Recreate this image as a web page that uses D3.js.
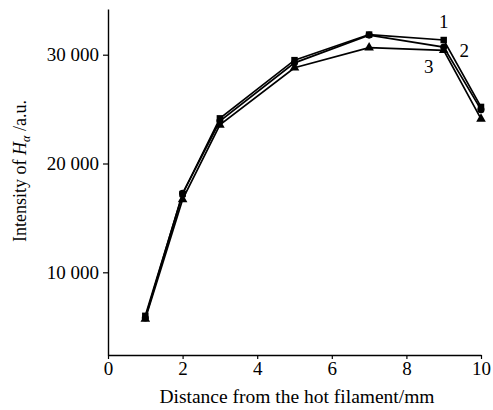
<!DOCTYPE html>
<html>
<head>
<meta charset="utf-8">
<script src="https://cdn.jsdelivr.net/npm/d3@7"></script>
<style>
  body { margin: 0; background: #fff; }
  text { font-family: "Liberation Serif", "DejaVu Serif", serif; fill: #000; }
</style>
</head>
<body>
<div id="graph"></div>
<script>
// values
const distance = [1, 2, 3, 5, 7, 9, 10]
const series1 = [6000, 17200, 24150, 29500, 31850, 31350, 25200]   // squares
const series2 = [5800, 17250, 23900, 29250, 31800, 30700, 24950]   // circles
const series3 = [5700, 16700, 23550, 28800, 30650, 30400, 24100]   // triangles
const xTicks = [0, 2, 4, 6, 8, 10]
const yTicks = [10000, 20000, 30000]

const total_width = 493
const total_height = 410
const margins = { top: 9, left: 108, right: 12, bottom: 55 }
const width = total_width - margins.left - margins.right
const height = total_height - margins.top - margins.bottom
const serif = '"Liberation Serif", "DejaVu Serif", serif'

const svg = d3.select('#graph').append('svg')
  .attr('width', total_width)
  .attr('height', total_height)

const g = svg.append('g')
  .attr('transform', `translate(${margins.left}, ${margins.top})`)

const x = d3.scaleLinear().domain([0, 10]).range([0, width])
const y = d3.scaleLinear().domain([2400, 34200]).range([height, 0])

// "30 000" style thousands
const fmt = d => d3.format(',')(d).replace(/,/g, ' ')

// axes
const xAxis = g.append('g')
  .attr('transform', `translate(0, ${height})`)
  .call(d3.axisBottom(x).tickValues(xTicks).tickSize(4).tickSizeOuter(0).tickPadding(3))
const yAxis = g.append('g')
  .call(d3.axisLeft(y).tickValues(yTicks).tickSize(5).tickSizeOuter(0).tickFormat(fmt).tickPadding(4))

xAxis.attr('font-family', serif).attr('font-size', 19)
yAxis.attr('font-family', serif).attr('font-size', 19)
svg.selectAll('.domain').attr('stroke', '#000').attr('stroke-width', 1.4)
svg.selectAll('.tick line').attr('stroke', '#000').attr('stroke-width', 1.2)
svg.selectAll('.tick text').attr('fill', '#000')

// lines
const line = d3.line()
  .x((d, i) => x(distance[i]))
  .y(d => y(d))

const allSeries = [
  { values: series1, symbol: d3.symbolSquare, size: 42 },
  { values: series2, symbol: d3.symbolCircle, size: 40 },
  { values: series3, symbol: d3.symbolTriangle, size: 40 }
]

allSeries.forEach(s => {
  g.append('path')
    .datum(s.values)
    .attr('fill', 'none')
    .attr('stroke', '#000')
    .attr('stroke-width', 1.7)
    .attr('d', line)
})

allSeries.forEach(s => {
  g.append('g')
    .selectAll('path')
    .data(s.values)
    .enter()
    .append('path')
    .attr('transform', (d, i) => `translate(${x(distance[i])}, ${y(d)})`)
    .attr('d', d3.symbol().type(s.symbol).size(s.size))
    .attr('fill', '#000')
})

// series labels
const labels = [
  { text: '1', x: 9.0, y: 32450 },
  { text: '2', x: 9.55, y: 29800 },
  { text: '3', x: 8.6, y: 28350 }
]
g.selectAll('.lbl')
  .data(labels)
  .enter()
  .append('text')
  .attr('x', d => x(d.x))
  .attr('y', d => y(d.y))
  .attr('text-anchor', 'middle')
  .style('font-size', '19px')
  .text(d => d.text)

// axis titles
svg.append('text')
  .attr('x', 297)
  .attr('y', 403)
  .attr('text-anchor', 'middle')
  .style('font-size', '19.5px')
  .text('Distance from the hot filament/mm')

const yTitle = svg.append('text')
  .attr('transform', 'translate(26, 171) rotate(-90)')
  .attr('text-anchor', 'middle')
  .style('font-size', '18px')
yTitle.append('tspan').text('Intensity of ')
yTitle.append('tspan').style('font-style', 'italic').text('H')
yTitle.append('tspan').style('font-size', '12px').style('font-style', 'italic').attr('dy', 4).text('α')
yTitle.append('tspan').attr('dy', -4).text(' /a.u.')
</script>
</body>
</html>
